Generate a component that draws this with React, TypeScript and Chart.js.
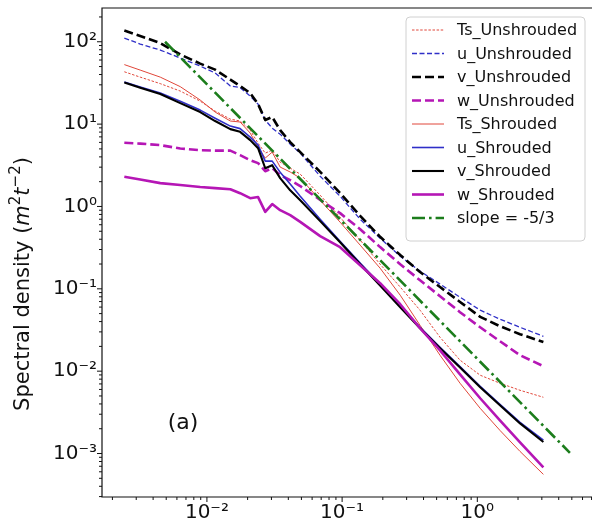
import React, { useEffect, useRef } from "react";
import { Chart, registerables } from "chart.js";

Chart.register(...registerables);

// ---------------- data ----------------
const freq = [0.00245, 0.00321, 0.00452, 0.00635, 0.00892, 0.0115, 0.0149, 0.0176, 0.0209, 0.0239, 0.027, 0.0304, 0.0348, 0.0413, 0.049, 0.0688, 0.0966, 0.136, 0.191, 0.269, 0.377, 0.53, 0.745, 1.05, 1.47, 2.07, 3.08];

const tsUnshrouded = [43.2, 37.2, 31.0, 25.2, 19.0, 14.4, 11.5, 10.9, 8.45, 5.87, 4.44, 4.83, 3.45, 2.92, 2.47, 1.37, 0.741, 0.39, 0.199, 0.105, 0.055, 0.0258, 0.0136, 0.00893, 0.00714, 0.00586, 0.00482];
const uUnshrouded = [110.9, 93.8, 79.3, 63.4, 50.7, 41.7, 29.0, 27.8, 21.9, 17.5, 11.2, 8.94, 7.55, 5.71, 4.44, 2.33, 1.33, 0.7, 0.412, 0.249, 0.164, 0.114, 0.0791, 0.055, 0.0428, 0.0341, 0.0265];
const vUnshrouded = [136.8, 117.3, 96.4, 70.0, 54.3, 45.9, 34.7, 29.0, 23.8, 17.5, 11.2, 12.2, 8.45, 6.04, 4.57, 2.63, 1.46, 0.767, 0.428, 0.257, 0.16, 0.105, 0.0693, 0.0456, 0.0352, 0.0281, 0.0226];
const wUnshrouded = [5.93, 5.8, 5.56, 5.05, 4.83, 4.76, 4.76, 4.2, 3.65, 3.36, 2.68, 2.92, 2.4, 2.09, 1.77, 1.2, 0.83, 0.53, 0.321, 0.199, 0.127, 0.0813, 0.052, 0.0341, 0.0231, 0.0156, 0.0115];
const tsShrouded = [52.8, 45.3, 37.2, 28.5, 19.6, 14.0, 10.9, 10.6, 7.78, 5.26, 3.87, 4.57, 3.01, 2.62, 2.21, 1.19, 0.645, 0.339, 0.178, 0.0836, 0.0361, 0.0156, 0.00714, 0.00354, 0.00191, 0.00106, 0.000558];
const uShrouded = [32.4, 28.2, 23.8, 19.0, 14.8, 11.8, 9.46, 8.82, 6.95, 5.56, 3.55, 3.55, 2.61, 1.87, 1.33, 0.7, 0.378, 0.205, 0.114, 0.0632, 0.0341, 0.0195, 0.0114, 0.00655, 0.00396, 0.00239, 0.00145];
const vShrouded = [31.9, 27.7, 23.2, 18.0, 14.0, 10.9, 8.69, 8.06, 6.39, 5.1, 2.91, 3.17, 2.21, 1.57, 1.19, 0.664, 0.368, 0.199, 0.11, 0.0597, 0.0332, 0.019, 0.0111, 0.00637, 0.00385, 0.00232, 0.00138];
const wShrouded = [2.29, 2.12, 1.92, 1.82, 1.72, 1.67, 1.62, 1.45, 1.26, 1.3, 0.859, 1.07, 0.901, 0.784, 0.65, 0.436, 0.32, 0.193, 0.117, 0.065, 0.0332, 0.0179, 0.00916, 0.00469, 0.00253, 0.00137, 0.000679];

const slopeFreq = [0.0049, 4.84];
const slopeValues = [100, 0.00102];

const xTickExponents = [-2, -1, 0];
const yTickExponents = [-3, -2, -1, 0, 1, 2];

const X_MIN = 0.001675;
const X_MAX = 7.05;
const Y_MIN = 2.965e-4;
const Y_MAX = 257;

const FONT = "'DejaVu Sans', 'Liberation Sans', sans-serif";

// ---------------- helpers ----------------
const SUP: Record<string, string> = { "-": "\u207B", "0": "\u2070", "1": "\u00B9", "2": "\u00B2", "3": "\u00B3", "4": "\u2074", "5": "\u2075", "6": "\u2076", "7": "\u2077", "8": "\u2078", "9": "\u2079" };
const sup = (n: number) => String(n).split("").map((c) => SUP[c] || c).join("");
const decadeLabel = (v: number, exps: number[]) => {
  const e = Math.round(Math.log10(v));
  if (Math.abs(v / Math.pow(10, e) - 1) < 1e-6 && exps.includes(e)) return "10" + sup(e);
  return null;
};
const pts = (xs: number[], ys: number[]) => xs.map((x, i) => ({ x, y: ys[i] }));

const RED = "#e0473a";
const BLUE = "#2f2fc8";
const MAG = "#b516b5";
const GREEN = "#1c7d1c";

const makeDatasets = () => {
  const ds: any[] = [
    { label: "Ts_Unshrouded", data: pts(freq, tsUnshrouded), borderColor: RED, borderWidth: 1, borderDash: [2.5, 1.6] },
    { label: "u_Unshrouded", data: pts(freq, uUnshrouded), borderColor: BLUE, borderWidth: 1.3, borderDash: [5, 2.5] },
    { label: "v_Unshrouded", data: pts(freq, vUnshrouded), borderColor: "#000000", borderWidth: 2.6, borderDash: [9, 4] },
    { label: "w_Unshrouded", data: pts(freq, wUnshrouded), borderColor: MAG, borderWidth: 2.6, borderDash: [9, 4] },
    { label: "Ts_Shrouded", data: pts(freq, tsShrouded), borderColor: RED, borderWidth: 1, borderDash: [] },
    { label: "u_Shrouded", data: pts(freq, uShrouded), borderColor: BLUE, borderWidth: 1.6, borderDash: [] },
    { label: "v_Shrouded", data: pts(freq, vShrouded), borderColor: "#000000", borderWidth: 2.1, borderDash: [] },
    { label: "w_Shrouded", data: pts(freq, wShrouded), borderColor: MAG, borderWidth: 2.6, borderDash: [] },
    { label: "slope = -5/3", data: pts(slopeFreq, slopeValues), borderColor: GREEN, borderWidth: 2.6, borderDash: [13, 4, 2.6, 4] },
  ];
  const n = ds.length;
  return ds.map((d, i) => ({
    ...d,
    order: n - i,
    fill: false,
    pointRadius: 0,
    tension: 0,
    borderJoinStyle: "round",
    borderCapStyle: "butt",
  }));
};

const decorPlugin = {
  id: "decor",
  afterDraw(chart: any) {
    const { ctx, chartArea: a, scales } = chart;
    ctx.save();
    // frame (right spine lies just outside the picture)
    ctx.strokeStyle = "#111";
    ctx.lineWidth = 1.2;
    ctx.beginPath();
    ctx.moveTo(a.right + 2, a.top);
    ctx.lineTo(a.left, a.top);
    ctx.lineTo(a.left, a.bottom);
    ctx.lineTo(a.right + 2, a.bottom);
    ctx.stroke();

    // tick marks (major & minor, outward)
    ctx.lineWidth = 1;
    const drawTicks = (scale: any, horiz: boolean) => {
      const lo = Math.floor(Math.log10(scale.min));
      const hi = Math.ceil(Math.log10(scale.max));
      for (let e = lo; e <= hi; e++) {
        for (let m = 1; m <= 9; m++) {
          const v = m * Math.pow(10, e);
          if (v < scale.min || v > scale.max) continue;
          const p = scale.getPixelForValue(v);
          const len = m === 1 ? 5 : 3;
          ctx.beginPath();
          if (horiz) {
            ctx.moveTo(p, a.bottom);
            ctx.lineTo(p, a.bottom + len);
          } else {
            ctx.moveTo(a.left, p);
            ctx.lineTo(a.left - len, p);
          }
          ctx.stroke();
        }
      }
    };
    drawTicks(scales.x, true);
    drawTicks(scales.y, false);

    // y axis title with italic symbols
    const size = 21;
    const parts = [
      { t: "Spectral density (", f: `${size}px ${FONT}`, dy: 0 },
      { t: "m", f: `italic ${size}px ${FONT}`, dy: 0 },
      { t: "2", f: `${Math.round(size * 0.7)}px ${FONT}`, dy: -0.42 * size },
      { t: "t", f: `italic ${size}px ${FONT}`, dy: 0 },
      { t: "\u22122", f: `${Math.round(size * 0.7)}px ${FONT}`, dy: -0.42 * size },
      { t: ")", f: `${size}px ${FONT}`, dy: 0 },
    ];
    let total = 0;
    const widths = parts.map((p) => {
      ctx.font = p.f;
      const w = ctx.measureText(p.t).width;
      total += w;
      return w;
    });
    ctx.save();
    ctx.fillStyle = "#111";
    ctx.textBaseline = "alphabetic";
    ctx.textAlign = "left";
    ctx.translate(29, 284);
    ctx.rotate(-Math.PI / 2);
    let u = -total / 2;
    parts.forEach((p, i) => {
      ctx.font = p.f;
      ctx.fillText(p.t, u, p.dy);
      u += widths[i];
    });
    ctx.restore();

    // panel tag
    ctx.fillStyle = "#111";
    ctx.font = `22px ${FONT}`;
    ctx.textAlign = "center";
    ctx.textBaseline = "middle";
    ctx.fillText("(a)", 183, 423);

    // legend
    const lx0 = 406, ly0 = 17, lx1 = 585, ly1 = 241, r = 4;
    ctx.beginPath();
    ctx.moveTo(lx0 + r, ly0);
    ctx.lineTo(lx1 - r, ly0);
    ctx.quadraticCurveTo(lx1, ly0, lx1, ly0 + r);
    ctx.lineTo(lx1, ly1 - r);
    ctx.quadraticCurveTo(lx1, ly1, lx1 - r, ly1);
    ctx.lineTo(lx0 + r, ly1);
    ctx.quadraticCurveTo(lx0, ly1, lx0, ly1 - r);
    ctx.lineTo(lx0, ly0 + r);
    ctx.quadraticCurveTo(lx0, ly0, lx0 + r, ly0);
    ctx.closePath();
    ctx.fillStyle = "rgba(255,255,255,0.8)";
    ctx.fill();
    ctx.strokeStyle = "#d0d0d0";
    ctx.lineWidth = 1;
    ctx.stroke();

    ctx.textAlign = "left";
    ctx.textBaseline = "middle";
    ctx.font = `16px ${FONT}`;
    chart.data.datasets.forEach((d: any, i: number) => {
      const y = 30 + i * 23.5;
      ctx.save();
      ctx.strokeStyle = d.borderColor;
      ctx.lineWidth = d.borderWidth;
      ctx.setLineDash(d.borderDash || []);
      ctx.lineCap = "butt";
      ctx.beginPath();
      ctx.moveTo(412, y);
      ctx.lineTo(444, y);
      ctx.stroke();
      ctx.restore();
      ctx.fillStyle = "#111";
      ctx.fillText(d.label, 457, y + 1);
    });
    ctx.restore();
  },
};

export default function App() {
  const ref = useRef<HTMLCanvasElement | null>(null);
  useEffect(() => {
    if (!ref.current) return;
    const chart = new Chart(ref.current, {
      type: "line",
      data: { datasets: makeDatasets() },
      options: {
        animation: false,
        responsive: false,
        devicePixelRatio: 1,
        layout: { padding: { top: 8, left: 0, right: 0, bottom: 0 } },
        plugins: { legend: { display: false }, tooltip: { enabled: false } },
        scales: {
          x: {
            type: "logarithmic",
            min: X_MIN,
            max: X_MAX,
            grid: { display: false, drawTicks: false },
            border: { display: false },
            ticks: {
              autoSkip: false,
              maxRotation: 0,
              minRotation: 0,
              padding: 4,
              color: "#111",
              font: { size: 20, family: FONT },
              callback: (v: any) => decadeLabel(Number(v), xTickExponents),
            },
            afterFit: (s: any) => {
              s.height = 34;
              s.paddingLeft = 0;
              s.paddingRight = 0;
            },
          },
          y: {
            type: "logarithmic",
            min: Y_MIN,
            max: Y_MAX,
            grid: { display: false, drawTicks: false },
            border: { display: false },
            ticks: {
              autoSkip: false,
              padding: 5,
              color: "#111",
              font: { size: 20, family: FONT },
              callback: (v: any) => decadeLabel(Number(v), yTickExponents),
            },
            afterFit: (s: any) => {
              s.width = 102;
              s.paddingTop = 0;
              s.paddingBottom = 0;
            },
          },
        },
      } as any,
      plugins: [decorPlugin],
    });
    return () => chart.destroy();
  }, []);
  return (
    <div style={{ position: "absolute", left: 0, top: 0, width: 592, height: 531, background: "#fff", overflow: "hidden" }}>
      <canvas ref={ref} width={592} height={531} style={{ display: "block" }} />
    </div>
  );
}
